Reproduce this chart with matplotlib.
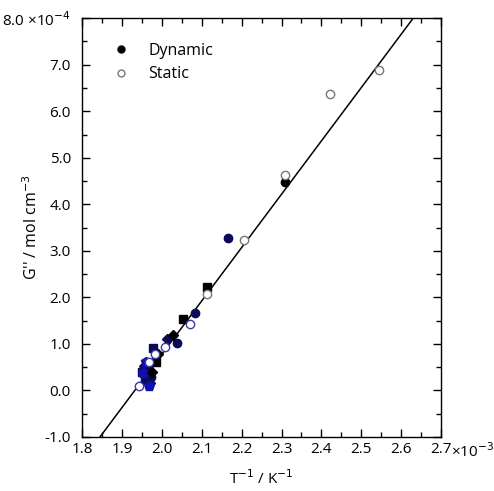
import numpy as np
from matplotlib import pyplot as plt
from matplotlib.ticker import MultipleLocator

plt.rcParams['font.family'] = ['Open Sans', 'DejaVu Sans']

# dynamic measurements (x in 1e-3 K^-1, y in 1e-4 mol cm^-3)
dyn_black_x = [2.308]
dyn_black_y = [4.47]
dyn_navy_x = [2.167, 2.083, 2.037, 1.962, 1.972]
dyn_navy_y = [3.27, 1.67, 1.01, 0.58, 0.28]
dyn_sq_x = [2.113, 2.052, 1.985]
dyn_sq_y = [2.22, 1.54, 0.62]
dyn_navy_sq_x = [1.978, 1.950, 1.958, 1.966]
dyn_navy_sq_y = [0.91, 0.40, 0.22, 0.48]
dyn_diam_x = [2.027, 1.990, 1.975]
dyn_diam_y = [1.19, 0.78, 0.40]
dyn_navy_diam_x = [2.014, 1.955, 1.962, 1.970]
dyn_navy_diam_y = [1.10, 0.52, 0.32, 0.15]
dyn_blue_x = [1.952, 1.960, 1.968]
dyn_blue_y = [0.38, 0.62, 0.10]

# static measurements
sta_grey_x = [2.545, 2.421, 2.309, 2.207, 2.114]
sta_grey_y = [6.88, 6.37, 4.63, 3.23, 2.07]
sta_blue_x = [2.071, 2.008, 1.944, 1.982, 1.967]
sta_blue_y = [1.42, 0.94, 0.10, 0.78, 0.62]

# linear fit
slope = 11.465
intercept = -22.153

fig = plt.figure(figsize=(4.94, 4.91), dpi=100)
ax = fig.add_axes([0.166, 0.110, 0.727, 0.853])

xx = np.array([1.8, 2.7])
ax.plot(xx, slope * xx + intercept, color='black', lw=1.1, zorder=1)

navy = '#0a0a55'
blue = '#1010b0'
ms = 6
ax.plot(dyn_navy_x, dyn_navy_y, 'o', color=navy, ms=ms, zorder=3)
ax.plot(dyn_navy_sq_x, dyn_navy_sq_y, 's', color=navy, ms=ms, zorder=3)
ax.plot(dyn_navy_diam_x, dyn_navy_diam_y, 'D', color=navy, ms=ms - 1, zorder=3)
ax.plot(dyn_blue_x, dyn_blue_y, 'p', color=blue, ms=ms + 1, zorder=3)
ax.plot(dyn_sq_x, dyn_sq_y, 's', color='black', ms=ms, zorder=3)
ax.plot(dyn_diam_x, dyn_diam_y, 'D', color='black', ms=ms - 1, zorder=3)
ax.plot(dyn_black_x, dyn_black_y, 'o', color='black', ms=ms, zorder=3)
ax.plot(sta_grey_x, sta_grey_y, 'o', mfc='white', mec='#777777', mew=1.0, ms=ms, zorder=4)
ax.plot(sta_blue_x, sta_blue_y, 'o', mfc='white', mec='#3a3aa8', mew=1.0, ms=ms, zorder=4)

# legend
ax.plot([], [], 'o', color='black', ms=5, label='Dynamic')
ax.plot([], [], 'o', mfc='white', mec='#777777', ms=5, label='Static')
handles, labels = ax.get_legend_handles_labels()
ax.legend(handles[-2:], labels[-2:], loc='upper left', frameon=False, fontsize=11.5,
          bbox_to_anchor=(0.025, 0.975), handletextpad=0.7, labelspacing=0.45)

ax.set_xlim(1.8, 2.7)
ax.set_ylim(-1.0, 8.0)
ax.xaxis.set_major_locator(MultipleLocator(0.1))
ax.xaxis.set_minor_locator(MultipleLocator(0.05))
ax.yaxis.set_major_locator(MultipleLocator(1.0))
ax.yaxis.set_minor_locator(MultipleLocator(0.5))
ax.tick_params(which='both', direction='in', top=True, right=True, labelsize=11)
ax.tick_params(which='major', length=6, width=1)
ax.tick_params(which='minor', length=3.5, width=1)
ax.tick_params(axis='y', pad=8)

yt = np.arange(-1.0, 8.01, 1.0)
ax.set_yticks(yt)
ax.set_yticklabels([f'{v:.1f}' for v in yt[:-1]] + ['8.0 \u00d710$^{-4}$'])
xt = np.arange(1.8, 2.701, 0.1)
ax.set_xticks(xt)
ax.set_xticklabels([f'{v:.1f}' for v in xt])
ax.text(1.028, -0.013, '\u00d710$^{-3}$', transform=ax.transAxes, fontsize=11, va='top', ha='left')

for s in ax.spines.values():
    s.set_linewidth(1.0)

ax.set_xlabel('T$^{-1}$ / K$^{-1}$', fontsize=11)
ax.xaxis.set_label_coords(0.5, -0.077)
ax.set_ylabel("G'' / mol cm$^{-3}$", fontsize=11.5)
ax.yaxis.set_label_coords(-0.115, 0.5)

plt.savefig('out.png', dpi=100)
